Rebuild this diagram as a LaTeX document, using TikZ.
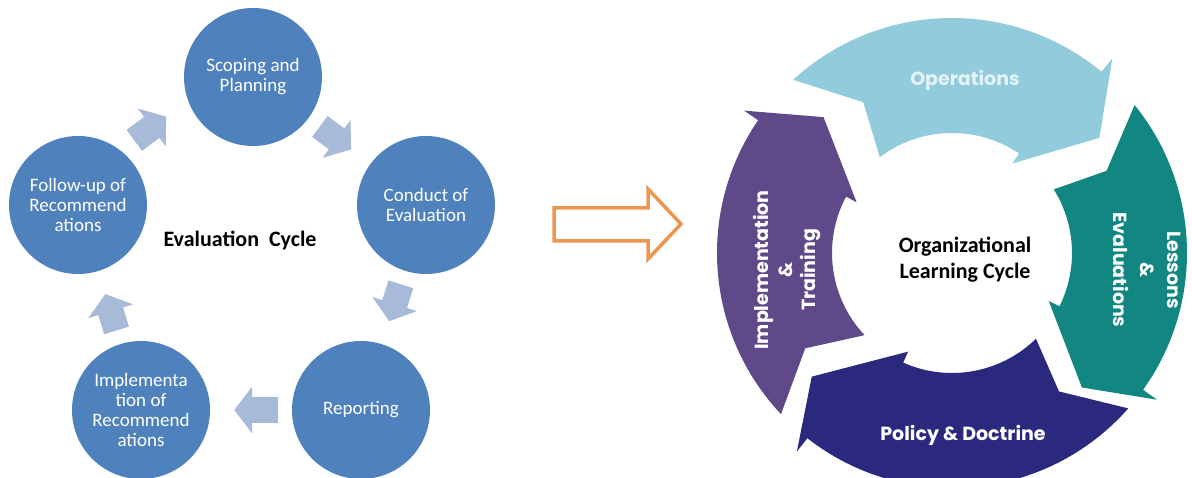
\documentclass[tikz,border=0pt]{standalone}
\usepackage{fontspec}
\setmainfont{Carlito}
\newfontfamily\gotica{Poppins}
\usetikzlibrary{arrows.meta}

\definecolor{azulcirc}{RGB}{79,129,189}
\definecolor{grisflecha}{RGB}{167,187,217}
\definecolor{naranja}{RGB}{237,150,80}
\definecolor{celeste}{RGB}{146,203,220}
\definecolor{turquesa}{RGB}{18,134,128}
\definecolor{marino}{RGB}{43,41,125}
\definecolor{morado}{RGB}{96,73,136}

\begin{document}
\begin{tikzpicture}[x=1pt,y=1pt,
    etapa/.style={circle,fill=azulcirc,minimum size=138pt,inner sep=0pt,
        text=white,align=center,font=\fontsize{19}{20}\selectfont},
    chev/.style={grisflecha,line width=26pt,shorten <=14pt,shorten >=24pt,
        -{Triangle[width=46pt,length=18pt]}},
    titulo/.style={font=\fontsize{22}{26}\selectfont\bfseries,align=center},
    anillo/.style={font=\gotica\bfseries\fontsize{19}{23.5}\selectfont,
        text=white,align=center}]
    \useasboundingbox[fill=white] (0,0) rectangle (1192,478);

    % Ciclo de evaluacion
    \node[etapa] (alcance) at (253,401) {Scoping and\\Planning};
    \node[etapa] (conducta) at (426,273) {Conduct of\\Evaluation};
    \node[etapa] (informe) at (361,68) {Reporting};
    \node[etapa] (implem) at (141,68) {Implementa\\tion of\\Recommend\\ations};
    \node[etapa] (seguim) at (78,273) {Follow-up of\\Recommend\\ations};
    \node[titulo] (evalciclo) at (240,237) {Evaluation\ \ Cycle};

    % Flechas entre etapas
    \draw[chev,shorten <=17pt,shorten >=27pt] (seguim.52) -- (alcance.200);
    \draw[chev] (alcance) -- (conducta);
    \draw[chev] (conducta) -- (informe);
    \draw[chev] (informe) -- (implem);
    \draw[chev] (implem) -- (seguim);

    % Flecha naranja
    \draw[naranja,line width=3.5pt] (554,237) -- (554,270) -- (648,270)
        -- (648,289) -- (681,254) -- (648,219) -- (648,237) -- cycle;

    % Anillo de aprendizaje
    \begin{scope}[shift={(952,225)}]
        \fill[celeste] (132.5:235) arc[start angle=132.5,end angle=50.5,radius=235]
            -- (50.5:252) -- (38:187) -- (56:108) -- (56:120)
            arc[start angle=56,end angle=127,radius=120] -- (120.5:175) -- cycle;
        \fill[turquesa] (39:235) arc[start angle=39,end angle=-35.6,radius=235]
            -- (-35.6:252) -- (-46:187) -- (-26.4:108) -- (-26.4:120)
            arc[start angle=-26.4,end angle=32,radius=120] -- (28:175) -- cycle;
        \fill[marino] (-41.4:235) arc[start angle=-41.4,end angle=-128,radius=235]
            -- (-128:252) -- (-138.6:187) -- (-114:108) -- (-114:120)
            arc[start angle=-114,end angle=-45.6,radius=120] -- (-52.3:175) -- cycle;
        \fill[morado] (-136.7:235) arc[start angle=-136.7,end angle=-214.4,radius=235]
            -- (-214.4:252) -- (-226.6:187) -- (-208:108) -- (-208:120)
            arc[start angle=-208,end angle=-136.8,radius=120] -- (-147:175) -- cycle;
    \end{scope}

    % Etiquetas
    \node[anillo,text=celeste!25] (oper) at (965,398) {Operations};
    \node[anillo,font=\gotica\bfseries\fontsize{19}{27}\selectfont] (lecc)
        at (1147,208) [rotate=-90] {Lessons\\\&\\Evaluations};
    \node[anillo] (polit) at (963,43) {Policy \& Doctrine};
    \node[anillo] (entren) at (787,208) [rotate=90] {Implementation\\\&\\Training};
    \node[titulo] (orgciclo) at (965,218) {Organizational\\Learning Cycle};
\end{tikzpicture}
\end{document}
